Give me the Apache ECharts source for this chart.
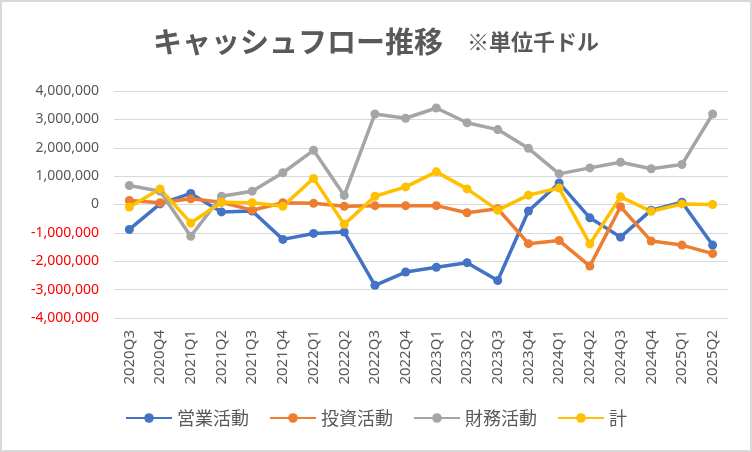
<!DOCTYPE html>
<html>
<head>
<meta charset="utf-8">
<script src="https://cdn.jsdelivr.net/npm/echarts@6/dist/echarts.min.js"></script>
<style>
  html, body { margin: 0; padding: 0; background: #fff; }
  #main { width: 752px; height: 452px; box-sizing: border-box; border: 2px solid #d9d9d9; }
</style>
</head>
<body>
<div id="main"></div>
<script>
const quarters = ['2020Q3', '2020Q4', '2021Q1', '2021Q2', '2021Q3', '2021Q4', '2022Q1', '2022Q2',
  '2022Q3', '2022Q4', '2023Q1', '2023Q2', '2023Q3', '2023Q4', '2024Q1', '2024Q2',
  '2024Q3', '2024Q4', '2025Q1', '2025Q2'];

// 単位: 千ドル
const operating = [-880000, 20000, 390000, -260000, -230000, -1230000, -1020000, -970000,
  -2850000, -2380000, -2210000, -2050000, -2680000, -230000, 760000, -470000,
  -1150000, -200000, 80000, -1430000];
const investing = [140000, 60000, 200000, 80000, -200000, 60000, 40000, -60000,
  -40000, -40000, -40000, -290000, -150000, -1380000, -1270000, -2170000,
  -80000, -1290000, -1430000, -1730000];
const financing = [670000, 470000, -1120000, 290000, 470000, 1120000, 1910000, 320000,
  3190000, 3040000, 3400000, 2880000, 2640000, 1980000, 1080000, 1290000,
  1490000, 1260000, 1410000, 3190000];
const total = [-90000, 550000, -650000, 80000, 60000, -60000, 920000, -700000,
  290000, 620000, 1150000, 550000, -200000, 330000, 580000, -1390000,
  270000, -240000, 20000, 0];

const names = ['営業活動', '投資活動', '財務活動', '計'];
const colors = ['#4472C4', '#ED7D31', '#A5A5A5', '#FFC000'];

const fontJP = '"Noto Sans CJK JP", sans-serif';
const fontNum = '"Noto Sans", "Liberation Sans", sans-serif';

function fmt(v) {
  const s = Math.abs(v).toString().replace(/\B(?=(\d{3})+(?!\d))/g, ',');
  return v < 0 ? '{neg|-' + s + '}' : '{pos|' + s + '}';
}

function lineSeries(name, data, color) {
  return {
    name: name,
    type: 'line',
    data: data,
    symbol: 'circle',
    symbolSize: 9,
    itemStyle: { color: color },
    lineStyle: { color: color, width: 3.5 },
    emphasis: { disabled: true }
  };
}

const chart = echarts.init(document.getElementById('main'));
chart.setOption({
  animation: false,
  textStyle: { fontFamily: fontJP },
  title: {
    text: '{a|キャッシュフロー推移}{s|}{b|※単位千ドル}',
    left: 'center',
    top: 20,
    textStyle: {
      rich: {
        a: { fontFamily: fontJP, fontSize: 29, fontWeight: 'bold', color: '#595959' },
        s: { width: 24 },
        b: { fontFamily: fontJP, fontSize: 22, fontWeight: 'bold', color: '#595959' }
      }
    }
  },
  grid: { left: 112, right: 22, top: 89, bottom: 132, containLabel: false },
  legend: {
    bottom: 18,
    left: 'center',
    itemWidth: 46,
    itemHeight: 12,
    itemGap: 20,
    textStyle: { fontFamily: fontJP, fontSize: 18, color: '#595959' },
    data: names
  },
  xAxis: {
    type: 'category',
    data: quarters,
    boundaryGap: true,
    axisLine: { show: true, lineStyle: { color: '#d9d9d9', width: 1 } },
    axisTick: { show: false },
    axisLabel: {
      rotate: 90,
      interval: 0,
      margin: 12,
      fontFamily: fontNum,
      fontSize: 15,
      color: '#595959'
    }
  },
  yAxis: {
    type: 'value',
    min: -4000000,
    max: 4000000,
    interval: 1000000,
    axisLine: { show: false },
    axisTick: { show: false },
    splitLine: { lineStyle: { color: '#d9d9d9', width: 1 } },
    axisLabel: {
      margin: 15,
      formatter: fmt,
      rich: {
        pos: { fontFamily: fontNum, fontSize: 14, color: '#595959' },
        neg: { fontFamily: fontNum, fontSize: 14, color: '#FF0000' }
      }
    }
  },
  series: [
    lineSeries(names[0], operating, colors[0]),
    lineSeries(names[1], investing, colors[1]),
    lineSeries(names[2], financing, colors[2]),
    lineSeries(names[3], total, colors[3])
  ]
});
</script>
</body>
</html>
